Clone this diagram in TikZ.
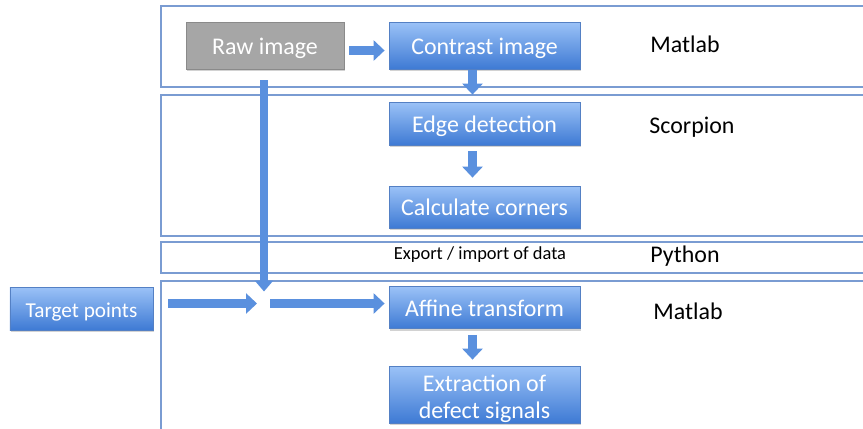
\documentclass[tikz,border=0pt]{standalone}
\usepackage{fontspec}
\setmainfont{Carlito}
\usetikzlibrary{arrows.meta,shadows}
\definecolor{paneline}{RGB}{122,156,210}
\definecolor{boxtop}{RGB}{155,194,247}
\definecolor{boxbot}{RGB}{62,122,212}
\definecolor{boxline}{RGB}{84,128,196}
\definecolor{rawfill}{RGB}{166,166,166}
\definecolor{rawline}{RGB}{138,138,138}
\definecolor{flow}{RGB}{90,144,222}
\tikzset{
 panel/.style={draw=paneline, line width=1.2bp, fill=white,
   drop shadow={opacity=.25, shadow xshift=.6bp, shadow yshift=-1.4bp}},
 stage/.style={draw=boxline, line width=.8bp, top color=boxtop, bottom color=boxbot,
   text=white, inner sep=0pt, minimum width=191bp, minimum height=42bp, align=center,
   text height=17bp, text depth=0bp, font=\fontsize{24}{27}\selectfont,
   drop shadow={opacity=.35, shadow xshift=1bp, shadow yshift=-2bp}},
 rawbox/.style={stage, draw=rawline, top color=rawfill, bottom color=rawfill,
   minimum width=158bp, minimum height=47bp},
 tool/.style={font=\fontsize{24}{27}\selectfont},
 flowarrow/.style={draw=flow, line width=8.5bp, -{Triangle[width=20bp,length=11bp]}}
}
\begin{document}
\begin{tikzpicture}[x=1bp,y=-1bp]
 \useasboundingbox (0,0) rectangle (863,428);
 % software layers
 \draw[panel] (161,6) rectangle (880,87);
 \draw[panel] (161,95) rectangle (880,236);
 \draw[panel] (161,242) rectangle (880,273);
 \draw[panel] (161,281) rectangle (880,440);
 %
 \node[rawbox] (raw) at (265,45.5) {Raw image};
 \node[stage, minimum height=47bp] (contrast) at (484.5,45.5) {Contrast image};
 \node[stage, minimum height=43bp] (edge) at (484.5,123.5) {Edge detection};
 \node[stage] (corners) at (484.5,207) {Calculate corners};
 \node[stage, minimum width=143bp, minimum height=43bp, font=\fontsize{21.3}{25}\selectfont] (target) at (81.5,308.5) {Target points};
 \node[stage] (affine) at (484.5,307.5) {Affine transform};
 \node[stage, minimum height=57bp, text height=47bp, text depth=0bp] (extract) at (484.5,394.5) {Extraction of\\defect signals};
 %
 \node[tool] (matlabA) at (685,44) {Matlab};
 \node[tool] (scorpion) at (692,127) {Scorpion};
 \node[tool] (python) at (685,256) {Python};
 \node[tool] (matlabB) at (688,311) {Matlab};
 \node[font=\fontsize{18.5}{21}\selectfont] (export) at (480,255) {Export / import of data};
 %
 \coordinate (join) at (264,303.5);
 %
 \draw[flowarrow, shorten <=5bp, shorten >=4bp] ([yshift=-5bp]raw.east) -- ([yshift=-5bp]contrast.west);
 \draw[flowarrow, shorten <=1bp, shorten >=7bp] ([xshift=-12bp]contrast.south) -- ([xshift=-12bp]edge.north);
 \draw[flowarrow, shorten <=6bp, shorten >=8bp] ([xshift=-12bp]edge.south) -- ([xshift=-12bp]corners.north);
 \draw[flowarrow, shorten <=6bp, shorten >=6bp] ([xshift=-12bp]affine.south) -- ([xshift=-12bp]extract.north);
 %
 \draw[flowarrow, line width=7.5bp, -{Triangle[width=18bp,length=11bp]}, shorten <=11bp, shorten >=12bp] (raw.south -| join) -- (join);
 \draw[flowarrow, shorten <=15bp, shorten >=7bp] (target.east |- join) -- (join);
 \draw[flowarrow, shorten <=6bp, shorten >=4bp] (join) -- (join -| affine.west);
\end{tikzpicture}
\end{document}
